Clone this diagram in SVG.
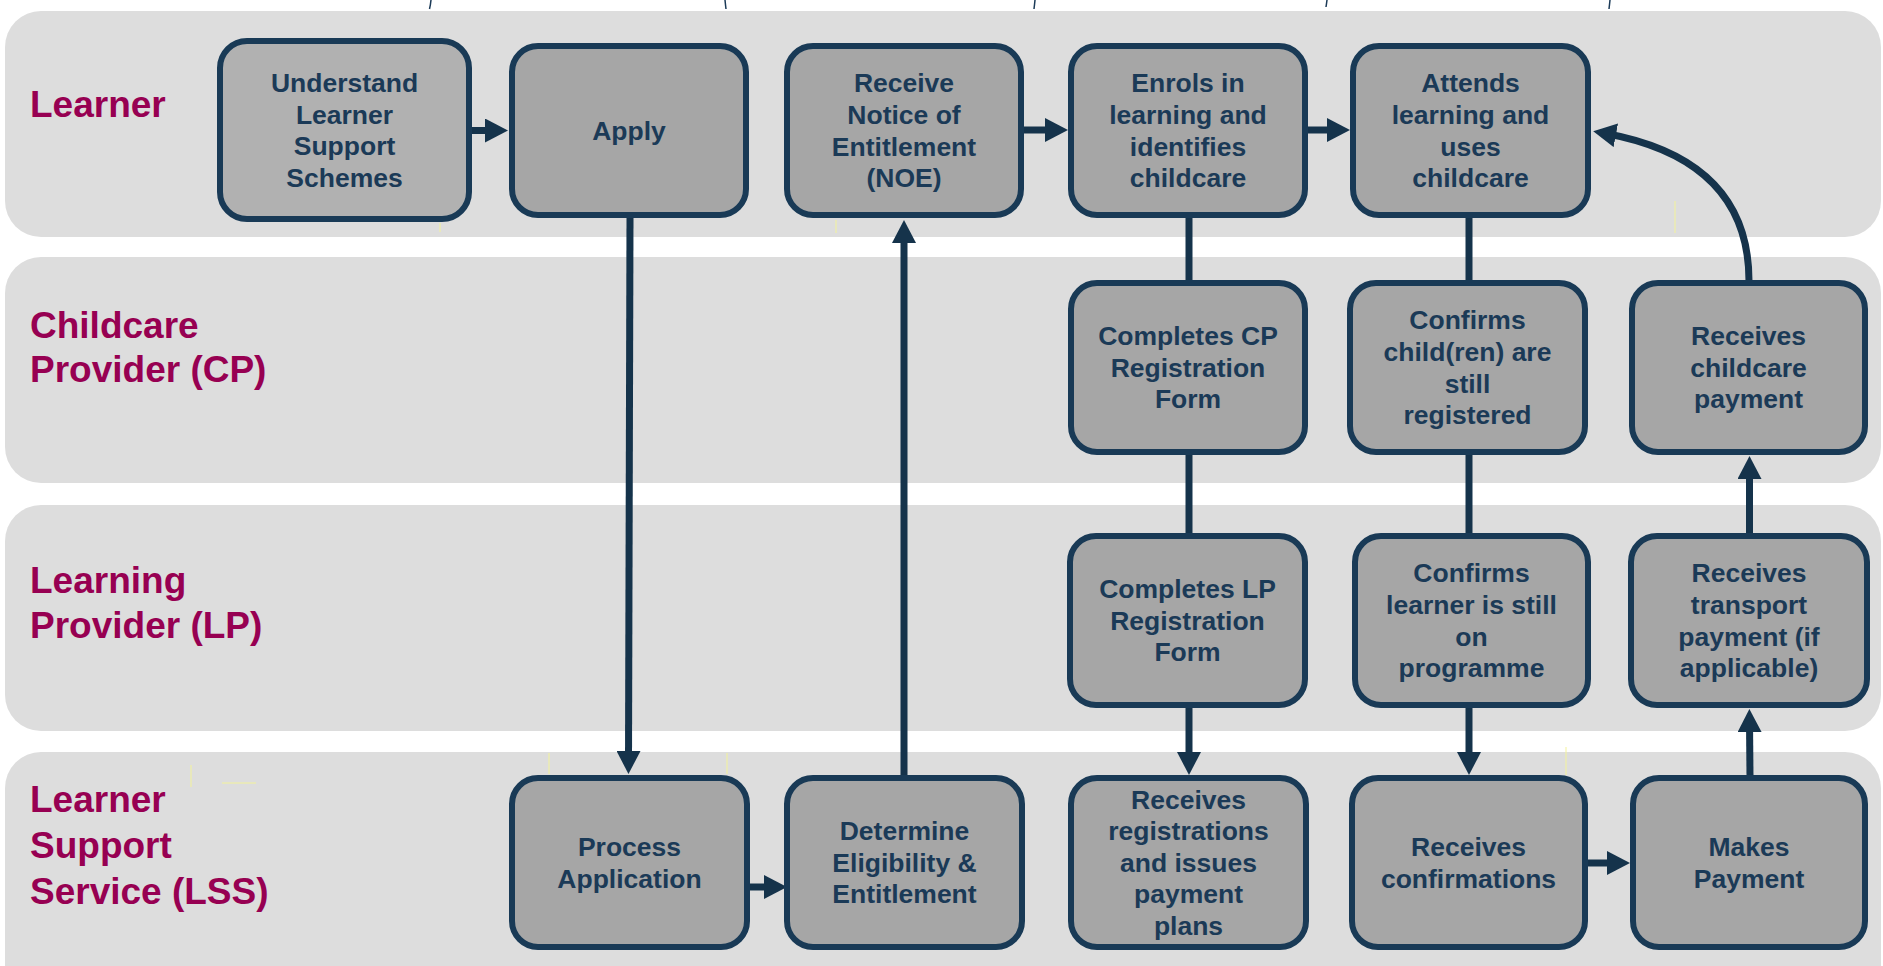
<svg xmlns="http://www.w3.org/2000/svg" width="1883" height="966" viewBox="0 0 1883 966">
  <defs>
    <style>
      .lane { fill: #dddddd; }
      .lane-label { font-family: "Liberation Sans", Arial, sans-serif; font-weight: bold; font-size: 37px; fill: #970052; }
      .box { fill: #a6a6a6; stroke: #193a56; stroke-width: 6; }
      .box.light { fill: #b1b1b1; }
      .box-text { font-family: "Liberation Sans", Arial, sans-serif; font-weight: bold; font-size: 26.5px; fill: #1b3a57; text-anchor: middle; }
      .link { fill: none; stroke: #15334b; stroke-width: 7; }
      .tick { fill: none; stroke: #1b3a57; stroke-width: 1.5; }
      .guide { fill: none; stroke: #f3f39a; stroke-width: 1; }
    </style>
    <marker id="arrow" viewBox="0 0 23 24" refX="10" refY="12" markerWidth="23" markerHeight="24" markerUnits="userSpaceOnUse" orient="auto">
      <path d="M0,0 L23,12 L0,24 Z" fill="#15334b"/>
    </marker>
  </defs>

  <rect width="1883" height="966" fill="#ffffff"/>

  <!-- small marks along the top edge -->
  <g id="top-marks">
    <path class="tick" d="M431,0 Q430.5,5 429.5,9"/>
    <path class="tick" d="M725,0 Q725.5,5 726,9"/>
    <path class="tick" d="M1035,0 Q1034.5,5 1034,9"/>
    <path class="tick" d="M1327,0 Q1326.5,4 1326,7"/>
    <path class="tick" d="M1610,0 Q1609.5,5 1609,9"/>
  </g>

  <!-- swimlanes -->
  <g id="lanes">
    <g id="lane-learner">
      <rect class="lane" x="5" y="11" width="1876" height="226" rx="36"/>
      <text class="lane-label" x="30" y="117">Learner</text>
    </g>
    <g id="lane-cp">
      <rect class="lane" x="5" y="257" width="1876" height="226" rx="36"/>
      <text class="lane-label" x="30" y="338">Childcare</text>
      <text class="lane-label" x="30" y="382">Provider (CP)</text>
    </g>
    <g id="lane-lp">
      <rect class="lane" x="5" y="505" width="1876" height="226" rx="36"/>
      <text class="lane-label" x="30" y="593">Learning</text>
      <text class="lane-label" x="30" y="638">Provider (LP)</text>
    </g>
    <g id="lane-lss">
      <rect class="lane" x="5" y="752" width="1876" height="260" rx="36"/>
      <text class="lane-label" x="30" y="812">Learner</text>
      <text class="lane-label" x="30" y="858">Support</text>
      <text class="lane-label" x="30" y="904">Service (LSS)</text>
    </g>
  </g>

  <!-- faint guide strokes -->
  <g id="guides">
    <line class="guide" x1="440" y1="223" x2="440" y2="232"/>
    <line class="guide" x1="836" y1="220" x2="836" y2="233"/>
    <line class="guide" x1="1675" y1="201" x2="1675" y2="233"/>
    <line class="guide" x1="191" y1="765" x2="191" y2="787"/>
    <line class="guide" x1="222" y1="783" x2="256" y2="783"/>
    <line class="guide" x1="549" y1="753" x2="549" y2="774"/>
    <line class="guide" x1="727" y1="753" x2="727" y2="774"/>
    <line class="guide" x1="1566" y1="747" x2="1566" y2="775"/>
  </g>

  <!-- connectors -->
  <g id="connectors">
    <line class="link" x1="471" y1="130.5" x2="495" y2="130.5" marker-end="url(#arrow)"/>
    <line class="link" x1="630" y1="218" x2="628.5" y2="761" marker-end="url(#arrow)"/>
    <line class="link" x1="904" y1="776" x2="904" y2="233" marker-end="url(#arrow)"/>
    <line class="link" x1="1023" y1="130" x2="1055" y2="130" marker-end="url(#arrow)"/>
    <line class="link" x1="1307" y1="130" x2="1337" y2="130" marker-end="url(#arrow)"/>
    <line class="link" x1="1189" y1="218" x2="1189" y2="281"/>
    <line class="link" x1="1189" y1="454" x2="1189" y2="534"/>
    <line class="link" x1="1189" y1="707" x2="1189" y2="762" marker-end="url(#arrow)"/>
    <line class="link" x1="1469" y1="218" x2="1469" y2="281"/>
    <line class="link" x1="1469" y1="454" x2="1469" y2="534"/>
    <line class="link" x1="1469" y1="707" x2="1469" y2="762" marker-end="url(#arrow)"/>
    <line class="link" x1="749" y1="887" x2="774" y2="887" marker-end="url(#arrow)"/>
    <line class="link" x1="1587" y1="863" x2="1617" y2="863" marker-end="url(#arrow)"/>
    <line class="link" x1="1750" y1="776" x2="1749.5" y2="722" marker-end="url(#arrow)"/>
    <line class="link" x1="1749.5" y1="534" x2="1749.5" y2="469" marker-end="url(#arrow)"/>
    <path class="link" d="M1749,281 C1749,195 1695,150 1606,133.5" marker-end="url(#arrow)"/>
  </g>

  <!-- Learner lane -->
  <g id="node-understand">
    <rect class="box light" x="220" y="41" width="249" height="178" rx="27"/>
    <text class="box-text"><tspan x="344.5" y="92">Understand</tspan><tspan x="344.5" y="123.6">Learner</tspan><tspan x="344.5" y="155.2">Support</tspan><tspan x="344.5" y="186.8">Schemes</tspan></text>
  </g>
  <g id="node-apply">
    <rect class="box" x="512" y="46" width="234" height="169" rx="26"/>
    <text class="box-text"><tspan x="629" y="139.8">Apply</tspan></text>
  </g>
  <g id="node-noe">
    <rect class="box" x="787" y="46" width="234" height="169" rx="26"/>
    <text class="box-text"><tspan x="904" y="92.4">Receive</tspan><tspan x="904" y="124">Notice of</tspan><tspan x="904" y="155.6">Entitlement</tspan><tspan x="904" y="187.2">(NOE)</tspan></text>
  </g>
  <g id="node-enrols">
    <rect class="box" x="1071" y="46" width="234" height="169" rx="26"/>
    <text class="box-text"><tspan x="1188" y="92.4">Enrols in</tspan><tspan x="1188" y="124">learning and</tspan><tspan x="1188" y="155.6">identifies</tspan><tspan x="1188" y="187.2">childcare</tspan></text>
  </g>
  <g id="node-attends">
    <rect class="box" x="1353" y="46" width="235" height="169" rx="26"/>
    <text class="box-text"><tspan x="1470.5" y="92.4">Attends</tspan><tspan x="1470.5" y="124">learning and</tspan><tspan x="1470.5" y="155.6">uses</tspan><tspan x="1470.5" y="187.2">childcare</tspan></text>
  </g>

  <!-- Childcare Provider lane -->
  <g id="node-cp-form">
    <rect class="box" x="1071" y="283" width="234" height="169" rx="26"/>
    <text class="box-text"><tspan x="1188" y="345.2">Completes CP</tspan><tspan x="1188" y="376.8">Registration</tspan><tspan x="1188" y="408.4">Form</tspan></text>
  </g>
  <g id="node-confirm-children">
    <rect class="box" x="1350" y="283" width="235" height="169" rx="26"/>
    <text class="box-text"><tspan x="1467.5" y="329.4">Confirms</tspan><tspan x="1467.5" y="361">child(ren) are</tspan><tspan x="1467.5" y="392.6">still</tspan><tspan x="1467.5" y="424.2">registered</tspan></text>
  </g>
  <g id="node-childcare-payment">
    <rect class="box" x="1632" y="283" width="233" height="169" rx="26"/>
    <text class="box-text"><tspan x="1748.5" y="345.2">Receives</tspan><tspan x="1748.5" y="376.8">childcare</tspan><tspan x="1748.5" y="408.4">payment</tspan></text>
  </g>

  <!-- Learning Provider lane -->
  <g id="node-lp-form">
    <rect class="box" x="1070" y="536" width="235" height="169" rx="26"/>
    <text class="box-text"><tspan x="1187.5" y="598.2">Completes LP</tspan><tspan x="1187.5" y="629.8">Registration</tspan><tspan x="1187.5" y="661.4">Form</tspan></text>
  </g>
  <g id="node-confirm-learner">
    <rect class="box" x="1355" y="536" width="233" height="169" rx="26"/>
    <text class="box-text"><tspan x="1471.5" y="582.4">Confirms</tspan><tspan x="1471.5" y="614">learner is still</tspan><tspan x="1471.5" y="645.6">on</tspan><tspan x="1471.5" y="677.2">programme</tspan></text>
  </g>
  <g id="node-transport-payment">
    <rect class="box" x="1631" y="536" width="236" height="169" rx="26"/>
    <text class="box-text"><tspan x="1749" y="582.4">Receives</tspan><tspan x="1749" y="614">transport</tspan><tspan x="1749" y="645.6">payment (if</tspan><tspan x="1749" y="677.2">applicable)</tspan></text>
  </g>

  <!-- Learner Support Service lane -->
  <g id="node-process">
    <rect class="box" x="512" y="778" width="235" height="169" rx="26"/>
    <text class="box-text"><tspan x="629.5" y="856">Process</tspan><tspan x="629.5" y="887.6">Application</tspan></text>
  </g>
  <g id="node-determine">
    <rect class="box" x="787" y="778" width="235" height="169" rx="26"/>
    <text class="box-text"><tspan x="904.5" y="840.2">Determine</tspan><tspan x="904.5" y="871.8">Eligibility &amp;</tspan><tspan x="904.5" y="903.4">Entitlement</tspan></text>
  </g>
  <g id="node-registrations">
    <rect class="box" x="1071" y="778" width="235" height="169" rx="26"/>
    <text class="box-text"><tspan x="1188.5" y="808.6">Receives</tspan><tspan x="1188.5" y="840.2">registrations</tspan><tspan x="1188.5" y="871.8">and issues</tspan><tspan x="1188.5" y="903.4">payment</tspan><tspan x="1188.5" y="935">plans</tspan></text>
  </g>
  <g id="node-confirmations">
    <rect class="box" x="1352" y="778" width="233" height="169" rx="26"/>
    <text class="box-text"><tspan x="1468.5" y="856">Receives</tspan><tspan x="1468.5" y="887.6">confirmations</tspan></text>
  </g>
  <g id="node-payment">
    <rect class="box" x="1633" y="778" width="232" height="169" rx="26"/>
    <text class="box-text"><tspan x="1749" y="856">Makes</tspan><tspan x="1749" y="887.6">Payment</tspan></text>
  </g>
</svg>
